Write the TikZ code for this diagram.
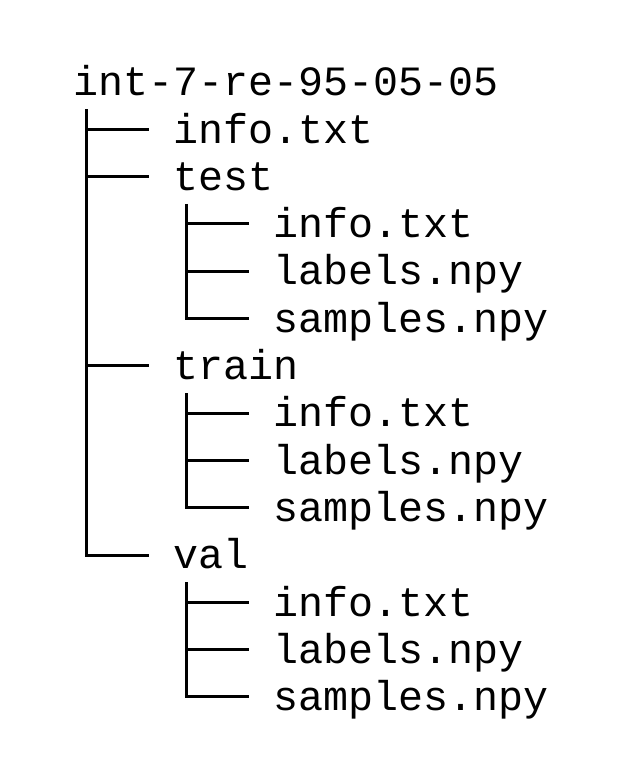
\documentclass[tikz,border=0pt]{standalone}
\usepackage{fontspec}
\newfontfamily\treemono{Liberation Mono}
\begin{document}
\begin{tikzpicture}[x=1pt,y=-1pt,
  entry/.style={anchor=base west, inner sep=0pt, text height=40.7pt, text depth=13.3pt,
    font=\treemono\fontsize{41.67pt}{47.3pt}\selectfont},
  branch/.style={draw=black, line width=3pt, line join=miter}]
\fill[white] (0,0) rectangle (643,777);
\useasboundingbox (0,0) rectangle (643,777);
\node[entry] (root) at (73.5,95.7) {int-7-re-95-05-05};
\node[entry] (rinfo) at (173.5,143.0) {info.txt};
\node[entry] (test) at (173.5,190.3) {test};
\node[entry] (teinfo) at (273.5,237.6) {info.txt};
\node[entry] (telab) at (273.5,284.9) {labels.npy};
\node[entry] (tesam) at (273.5,332.2) {samples.npy};
\node[entry] (train) at (173.5,379.5) {train};
\node[entry] (trinfo) at (273.5,426.8) {info.txt};
\node[entry] (trlab) at (273.5,474.1) {labels.npy};
\node[entry] (trsam) at (273.5,521.4) {samples.npy};
\node[entry] (val) at (173.5,568.7) {val};
\node[entry] (vinfo) at (273.5,616.0) {info.txt};
\node[entry] (vlab) at (273.5,663.3) {labels.npy};
\node[entry] (vsam) at (273.5,710.6) {samples.npy};
% trunks
\coordinate (roottr) at ([xshift=12.5pt]root.south west);
\coordinate (testtr) at ([xshift=12.5pt]test.south west);
\coordinate (traintr) at ([xshift=12.5pt]train.south west);
\coordinate (valtr) at ([xshift=12.5pt]val.south west);
% root
\draw[branch] (roottr |- rinfo.west) -- ([xshift=-25pt]rinfo.west);
\draw[branch] (roottr |- test.west) -- ([xshift=-25pt]test.west);
\draw[branch] (roottr |- train.west) -- ([xshift=-25pt]train.west);
\draw[branch] (roottr) |- ([xshift=-25pt]val.west);
% test
\draw[branch] (testtr |- teinfo.west) -- ([xshift=-25pt]teinfo.west);
\draw[branch] (testtr |- telab.west) -- ([xshift=-25pt]telab.west);
\draw[branch] (testtr) |- ([xshift=-25pt]tesam.west);
% train
\draw[branch] (traintr |- trinfo.west) -- ([xshift=-25pt]trinfo.west);
\draw[branch] (traintr |- trlab.west) -- ([xshift=-25pt]trlab.west);
\draw[branch] (traintr) |- ([xshift=-25pt]trsam.west);
% val
\draw[branch] (valtr |- vinfo.west) -- ([xshift=-25pt]vinfo.west);
\draw[branch] (valtr |- vlab.west) -- ([xshift=-25pt]vlab.west);
\draw[branch] (valtr) |- ([xshift=-25pt]vsam.west);
\end{tikzpicture}
\end{document}
